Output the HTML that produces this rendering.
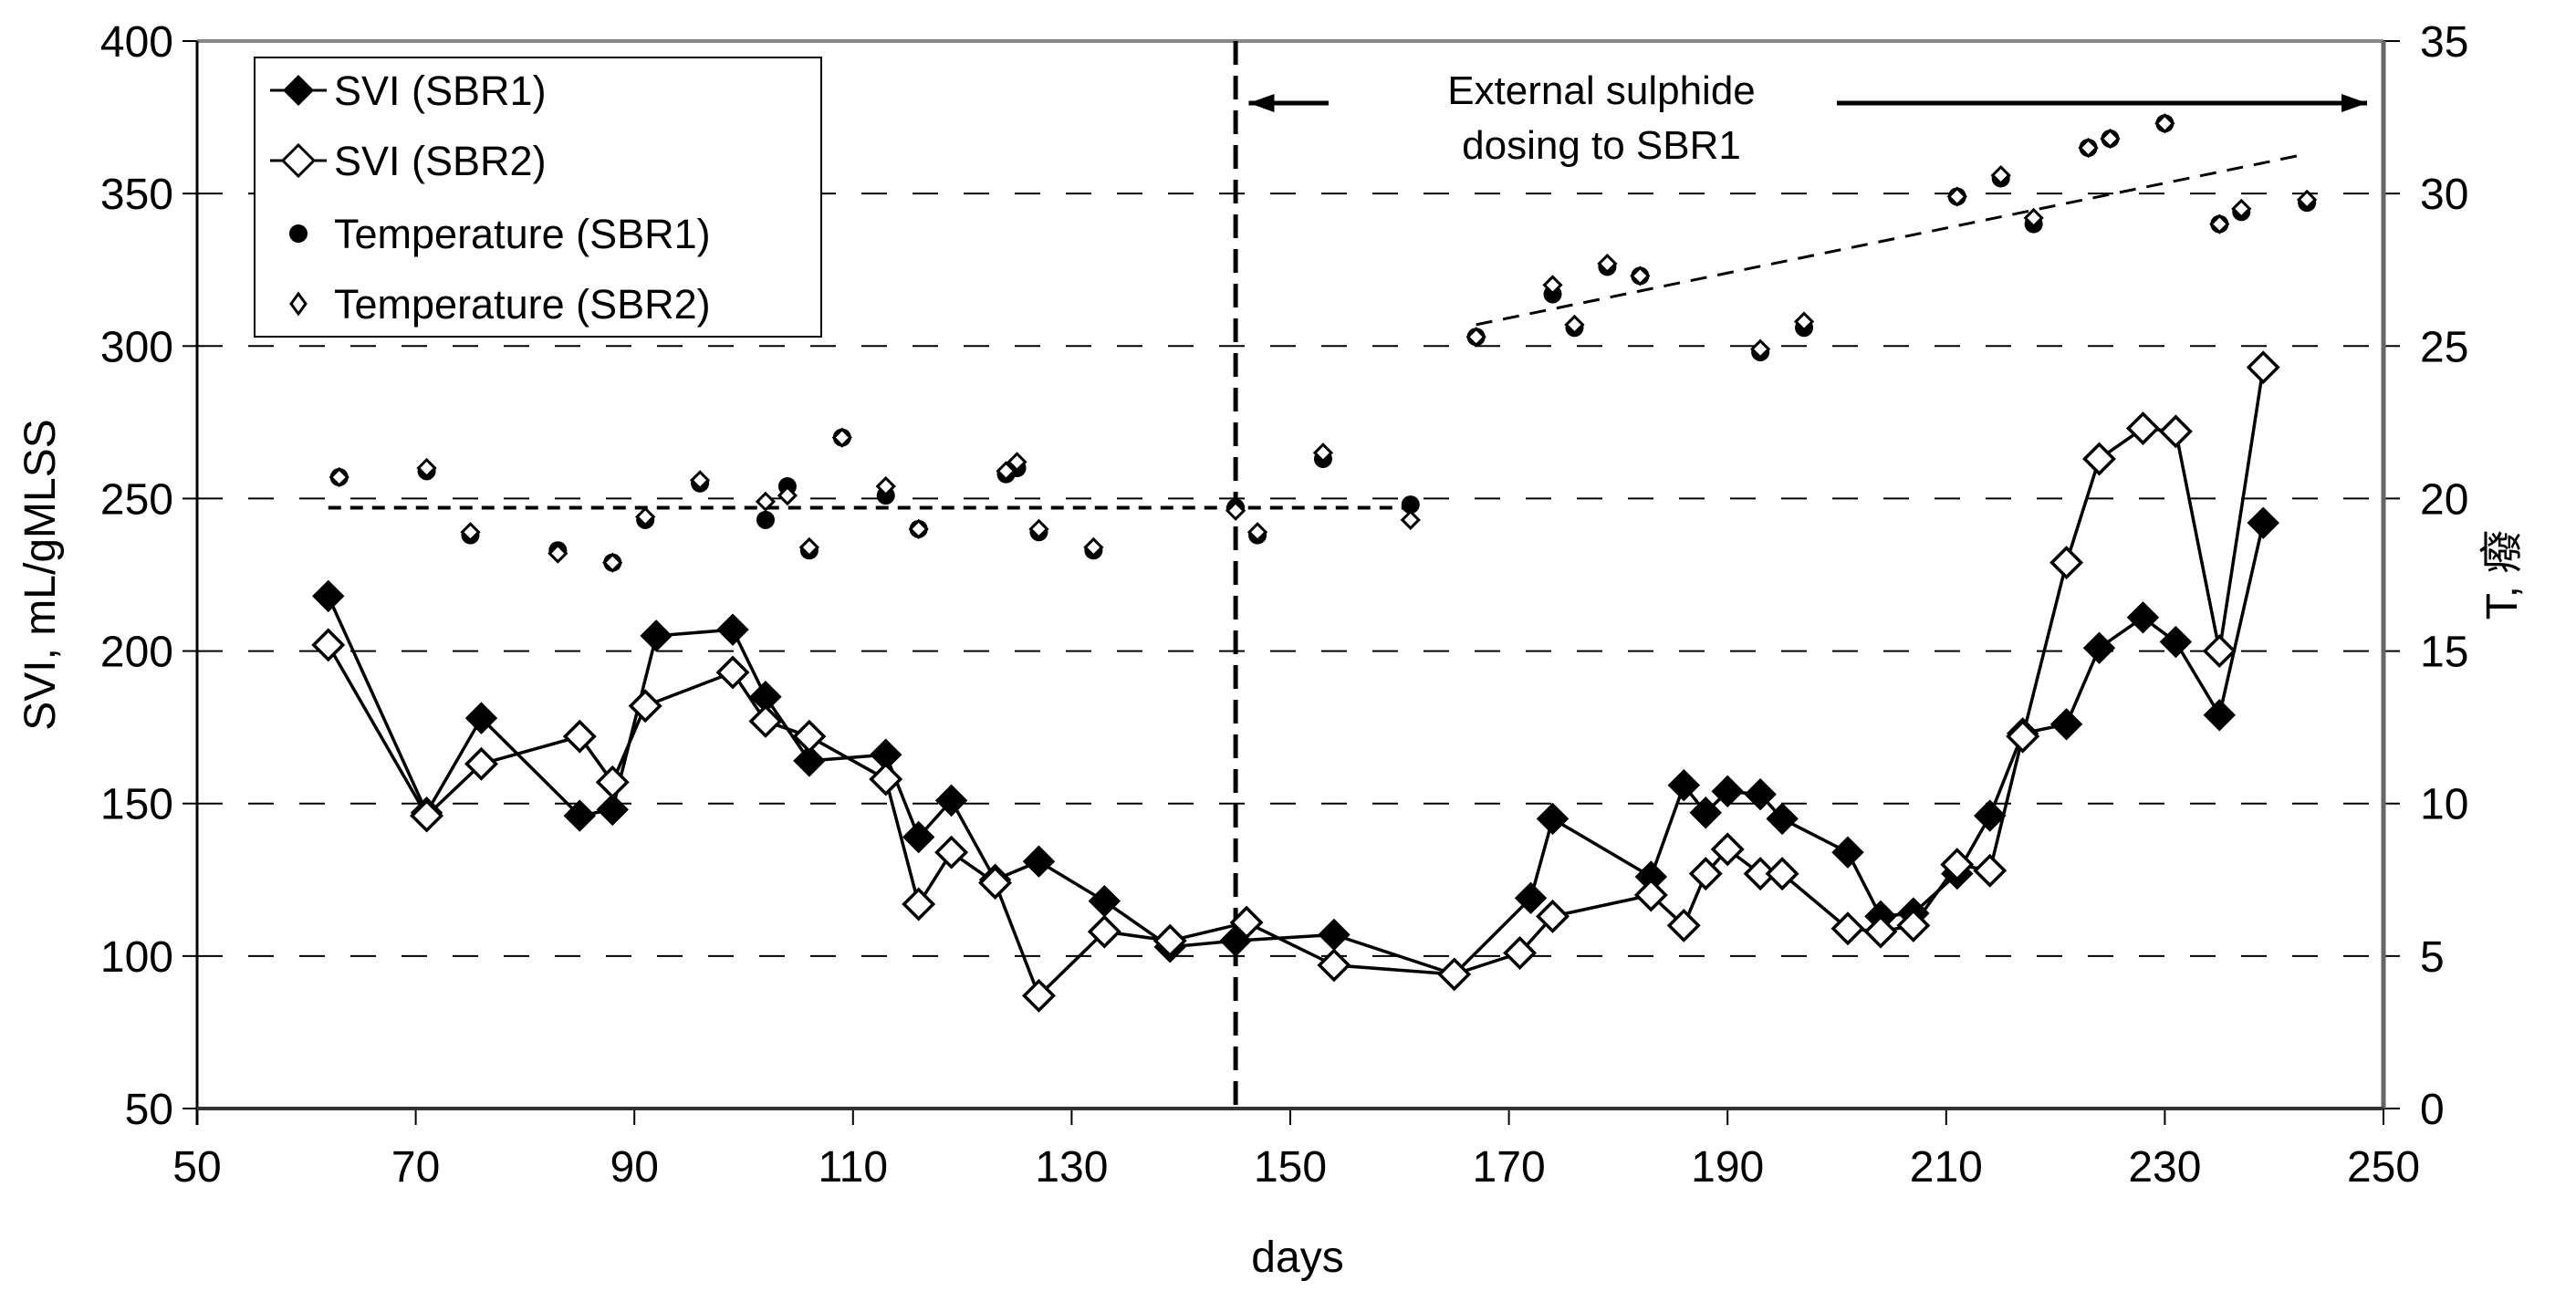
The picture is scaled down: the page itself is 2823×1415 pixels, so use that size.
<!DOCTYPE html>
<html><head><meta charset="utf-8"><style>
html,body{margin:0;padding:0;background:#fff;}
svg{display:block;font-family:"Liberation Sans","Noto Sans CJK SC",sans-serif;}
</style></head><body>
<svg id="chart" width="2823" height="1415" viewBox="0 0 2823 1415" xmlns="http://www.w3.org/2000/svg">
<g id="grid"></g>
<g id="axes"></g>
<g id="series"></g>
<g>
  <text x="1755" y="114" font-size="44" text-anchor="middle">External sulphide</text>
  <text x="1755" y="174" font-size="44" text-anchor="middle">dosing to SBR1</text>
</g>
<g>
  <rect x="279" y="63" width="621" height="306" fill="#fff" stroke="#000" stroke-width="2"/>
  <line x1="296" y1="99" x2="358" y2="99" stroke="#000" stroke-width="3"/>
  <polygon points="327,82 344,99 327,116 310,99" fill="#000"/>
  <text x="366" y="115" font-size="45">SVI (SBR1)</text>
  <line x1="296" y1="176" x2="358" y2="176" stroke="#000" stroke-width="3"/>
  <polygon points="327,159 344,176 327,193 310,176" fill="#fff" stroke="#000" stroke-width="3"/>
  <text x="366" y="192" font-size="45">SVI (SBR2)</text>
  <circle cx="327" cy="256" r="10" fill="#000"/>
  <text x="366" y="272" font-size="45">Temperature (SBR1)</text>
  <polygon points="327,322 335,333 327,344 319,333" fill="#fff" stroke="#000" stroke-width="3"/>
  <text x="366" y="349" font-size="45">Temperature (SBR2)</text>
</g>
</svg>
<script>
const xTicks = [50,70,90,110,130,150,170,190,210,230,250];
const yTicks = [50,100,150,200,250,300,350,400];
const y2Ticks = [0,5,10,15,20,25,30,35];
const sbr1Days = [62,71,76,85,88,92,99,102,106,113,116,119,123,127,133,139,145,154,165,172,174,183,186,188,190,193,195,201,204,207,211,214,217,221,224,228,231,235,239];
const sbr1Svi = [218,147,178,146,148,205,207,185,164,166,139,151,125,131,118,103,105,107,94,119,145,126,156,147,154,153,145,134,113,114,127,146,173,176,201,211,203,179,242];
const sbr2Days = [62,71,76,85,88,91,99,102,106,113,116,119,123,127,133,139,146,154,165,171,174,183,186,188,190,193,195,201,204,207,211,214,217,221,224,228,231,235,239];
const sbr2Svi = [202,146,163,172,157,182,193,177,172,158,117,134,124,87,108,105,111,97,94,101,113,120,110,127,135,127,127,109,108,110,130,128,172,229,263,273,272,200,293];
const tempDays = [63,71,75,83,88,91,96,102,104,106,109,113,116,124,125,127,132,145,147,153,161,167,174,176,179,182,193,197,211,215,218,223,225,230,235,237,243];
const temp1 = [20.7,20.9,18.8,18.3,17.9,19.3,20.5,19.3,20.4,18.3,22.0,20.1,19.0,20.8,21.0,18.9,18.3,19.7,18.8,21.3,19.8,25.3,26.7,25.6,27.6,27.3,24.8,25.6,29.9,30.5,29.0,31.5,31.8,32.3,29.0,29.4,29.7];
const temp2 = [20.7,21.0,18.9,18.2,17.9,19.4,20.6,19.9,20.1,18.4,22.0,20.4,19.0,20.9,21.2,19.0,18.4,19.6,18.9,21.5,19.3,25.3,27.0,25.7,27.7,27.3,24.9,25.8,29.9,30.6,29.2,31.5,31.8,32.3,29.0,29.5,29.8];
const trendDays1 = [62,161];
const trendTemp1 = [19.7,19.7];
const trendDays2 = [167,243];
const trendTemp2 = [25.7,31.3];
const dosingDay = 145;

const NS='http://www.w3.org/2000/svg';
const X0=216,X1=2612,Y0=45,Y1=1215;
const xs=d=>X0+(d-50)/200*(X1-X0);
const ys=v=>Y1-(v-50)/350*(Y1-Y0);
const yt=t=>Y1-t/35*(Y1-Y0);
function mk(tag,attrs,parent){const e=document.createElementNS(NS,tag);for(const k in attrs)e.setAttribute(k,attrs[k]);parent.appendChild(e);return e;}
const grid=document.getElementById('grid'),axes=document.getElementById('axes'),series=document.getElementById('series');

yTicks.forEach(v=>{
  if(v>50&&v<400){const g=mk('line',{x1:X0,x2:X1,y1:ys(v),y2:ys(v),stroke:'#000','stroke-width':2,'stroke-dasharray':'28 28'},grid);
  
  }
  mk('line',{x1:X0-16,x2:X0,y1:ys(v),y2:ys(v),stroke:'#000','stroke-width':2},axes);
  const t=mk('text',{x:X0-26,y:ys(v)+17,'font-size':48,'text-anchor':'end'},axes);t.textContent=v;
  
  
});
y2Ticks.forEach(v=>{
  mk('line',{x1:X1,x2:X1+18,y1:yt(v),y2:yt(v),stroke:'#000','stroke-width':2},axes);
  const t=mk('text',{x:X1+40,y:yt(v)+17,'font-size':48,'text-anchor':'start'},axes);t.textContent=v;
  
  
});
xTicks.forEach(v=>{
  mk('line',{x1:xs(v),x2:xs(v),y1:Y1,y2:Y1+18,stroke:'#000','stroke-width':2},axes);
  const t=mk('text',{x:xs(v),y:Y1+80,'font-size':48,'text-anchor':'middle'},axes);t.textContent=v;
  
  
});
mk('line',{x1:X0,x2:X1,y1:Y0,y2:Y0,stroke:'#888','stroke-width':4},axes);
mk('line',{x1:X1,x2:X1,y1:Y0,y2:Y1,stroke:'#666','stroke-width':5},axes);
mk('line',{x1:X0,x2:X0,y1:Y0,y2:Y1+18,stroke:'#000','stroke-width':3},axes);
mk('line',{x1:X0,x2:X1,y1:Y1,y2:Y1,stroke:'#333','stroke-width':4},axes);
let at=mk('text',{x:0,y:0,'font-size':48,'text-anchor':'middle',transform:'translate(60,630) rotate(-90)'},axes);at.textContent='SVI, mL/gMLSS';


at=mk('text',{x:0,y:0,'font-size':48,'text-anchor':'middle',transform:'translate(2758,630) rotate(-90)'},axes);at.textContent='T, 癈';


at=mk('text',{x:1422,y:1394,'font-size':48,'text-anchor':'middle'},axes);at.textContent='days';



[[trendDays1,trendTemp1,'14 10',4],[trendDays2,trendTemp2,'18 12',3]].forEach(([d,t,da,w])=>{
  const l=mk('line',{x1:xs(d[0]),y1:yt(t[0]),x2:xs(d[1]),y2:yt(t[1]),stroke:'#000','stroke-width':w,'stroke-dasharray':da},series);
  
  
});
let dl=mk('line',{x1:xs(dosingDay),x2:xs(dosingDay),y1:Y0,y2:Y1,stroke:'#000','stroke-width':5,'stroke-dasharray':'26 12'},series);


function arrow(xa,xb,name){const y=113;const g=mk('g',{},series);
 
 
 mk('line',{x1:xa,x2:xb,y1:y,y2:y,stroke:'#000','stroke-width':5},g);
 const dir=xb>xa?1:-1;
 mk('polygon',{points:`${xb},${y} ${xb-dir*28},${y-10} ${xb-dir*28},${y+10}`,fill:'#000'},g);}
arrow(xs(153.5),xs(146.2),'arrow-left');
arrow(xs(200),xs(248.5),'arrow-right');

function line(days,vals,name){const l=mk('polyline',{points:days.map((d,i)=>xs(d)+','+ys(vals[i])).join(' '),fill:'none',stroke:'#000','stroke-width':3.5},series);
 
 }
line(sbr1Days,sbr1Svi,'svi-sbr1-line');
line(sbr2Days,sbr2Svi,'svi-sbr2-line');
function dia(cx,cy,r,fill,sw){return mk('polygon',{points:`${cx},${cy-r} ${cx+r},${cy} ${cx},${cy+r} ${cx-r},${cy}`,fill:fill,stroke:'#000','stroke-width':sw},series);}
sbr1Days.forEach((d,i)=>{const p=dia(xs(d),ys(sbr1Svi[i]),17,'#000',1);
 
 });
sbr2Days.forEach((d,i)=>{const p=dia(xs(d),ys(sbr2Svi[i]),16,'#fff',3.5);
 
 });
tempDays.forEach((d,i)=>{const c=mk('circle',{cx:xs(d),cy:yt(temp1[i]),r:10,fill:'#000'},series);
 
 });
tempDays.forEach((d,i)=>{const p=dia(xs(d),yt(temp2[i]),9,'#fff',3);
 
 });
</script>
</body></html>
